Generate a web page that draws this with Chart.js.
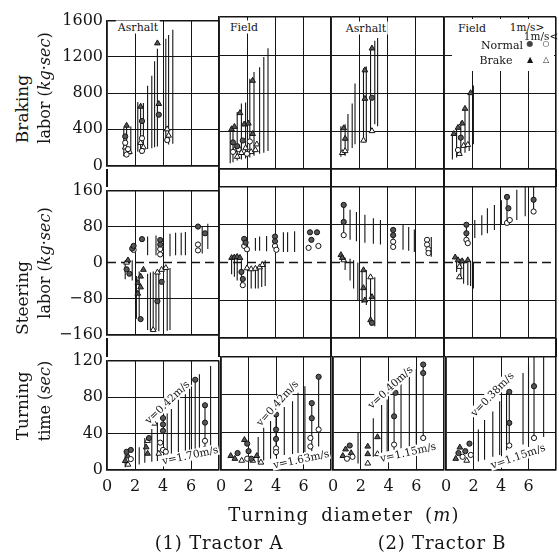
<!DOCTYPE html>
<html>
<head>
<meta charset="utf-8">
<script src="https://cdn.jsdelivr.net/npm/chart.js@4.4.0/dist/chart.umd.min.js"></script>
<style>
  body { margin: 0; width: 559px; height: 554px; background: #fff; position: relative; overflow: hidden;
         font-family: 'DejaVu Serif', serif; color: #151515; }
  canvas { position: absolute; }
  .t { position: absolute; white-space: nowrap; transform-origin: center; line-height: 1; z-index: 5; }
  .strip { position: absolute; background: #151515; width: 1.6px; }
  i { font-style: italic; }
</style>
</head>
<body>
<script>
// ---- axes ----
const xTicks = [0, 2, 4, 6, 8];
const brakingTicks = [0, 400, 800, 1200, 1600];
const steeringTicks = [-160, -80, 0, 80, 160];
const timeTicks = [0, 40, 80, 120];

// ---- Braking labor (kg.sec) ----
// lines: [diameter, low, high]; markers: [diameter, value]
const brkA1Lines = [[1.2,100,420],[1.4,110,450],[1.7,120,430],[2.2,150,700],[2.4,130,690],[2.6,140,690],[2.9,180,880],[3.2,190,990],[3.4,200,1150],[3.6,210,1290],[4.2,250,1400],[4.4,230,1440],[4.7,240,1500]];
const brkA1NormHi = [[1.3,320],[2.5,490],[3.7,560]];
const brkA1NormLo = [[1.3,250],[1.5,180],[2.5,300],[2.5,160],[4.3,280],[1.4,120]];
const brkA1BrkHi = [[1.4,440],[2.4,650],[3.6,1350],[3.7,680]];
const brkA1BrkLo = [[1.3,200],[1.6,150],[2.4,250],[2.6,200],[4.3,400],[4.4,330]];

const brkA2Lines = [[0.8,60,400],[1.0,70,420],[1.3,90,600],[1.6,100,690],[1.9,110,700],[2.2,120,950],[2.5,140,1020],[2.9,160,1070],[3.2,170,1180],[3.5,190,1270]];
const brkA2NormHi = [[1.0,280],[1.3,240],[1.7,300]];
const brkA2NormLo = [[1.0,180],[1.4,210],[2.0,160],[2.2,290]];
const brkA2BrkHi = [[0.9,420],[1.1,445],[1.5,590],[1.8,470],[2.1,480],[2.4,930],[2.4,370]];
const brkA2BrkLo = [[1.1,200],[1.3,130],[1.6,170],[1.9,220],[2.3,180],[2.6,200],[2.7,260]];

const brkB1Lines = [[0.7,130,450],[1.0,140,470],[1.2,190,580],[1.5,220,690],[1.7,260,900],[2.3,280,1060],[2.5,290,1080],[2.8,380,1280],[3.1,470,1350],[3.3,450,1380]];
const brkB1NormHi = [[2.9,750]];
const brkB1NormLo = [];
const brkB1BrkHi = [[0.9,430],[1.0,320],[2.4,1040],[2.4,740],[2.9,1270]];
const brkB1BrkLo = [[0.8,170],[1.0,190],[2.3,300],[2.9,400]];

const brkB2Lines = [[0.6,100,370],[0.9,120,430],[1.2,150,500],[1.5,170,650],[1.8,190,800],[2.1,260,880]];
const brkB2NormHi = [[1.2,330]];
const brkB2NormLo = [[1.0,200]];
const brkB2BrkHi = [[0.7,370],[1.0,435],[1.3,480],[1.5,635],[1.9,800]];
const brkB2BrkLo = [[1.1,160],[1.4,245],[1.7,255]];

// ---- Steering labor (kg.sec) ----
const strA1Lines = [[1.3,-37,5],[1.8,-40,5],[2.1,-125,-30],[2.3,-130,-20],[2.9,-150,-25],[3.1,-152,-22],[3.3,-152,-20],[3.5,-150,-25],[3.7,-153,-20],[4.3,-152,-15],[4.5,-150,-12],
                    [2.9,16,58],[3.5,16,60],[4.5,14,64],[4.9,16,66],[5.3,16,66],[5.6,16,68],[6.8,20,80],[7.2,30,86]];
const strA1NormHi = [[1.8,31],[1.9,37],[2.5,52],[3.8,50],[3.8,40],[6.5,80],[7.0,65],[1.4,-15],[1.6,-25],[2.4,-126],[3.6,-86],[3.9,-43]];
const strA1NormLo = [[3.8,30],[3.8,18],[6.5,40],[6.5,27],[1.9,28]];
const strA1BrkHi = [[1.5,5],[2.2,-69],[2.4,-31],[2.6,-16],[2.2,-45],[2.4,-55]];
const strA1BrkLo = [[3.3,-150],[3.6,-22],[3.9,-16],[4.2,-12],[1.4,0]];

const strA2Lines = [[2.6,25,52],[2.9,25,55],[3.4,24,56],[4.6,22,64],[4.9,22,64],[5.4,22,66],
                    [0.9,-25,8],[1.1,-30,8],[1.3,-38,8],[1.6,-52,5],[2.3,-55,-10],[2.6,-55,-10],[2.8,-55,-8],[3.05,-52,-8],[3.3,-50,5]];
const strA2NormHi = [[1.8,50],[1.9,42],[4.0,55],[4.0,45],[6.5,64],[6.6,48],[7.0,64],[1.6,-20],[1.7,-35]];
const strA2NormLo = [[1.8,35],[2.0,28],[4.0,35],[4.1,27],[6.4,31],[7.1,35],[1.7,-48]];
const strA2BrkHi = [[0.9,10],[1.1,11],[1.3,12],[1.5,10]];
const strA2BrkLo = [[2.0,-12],[2.3,-14],[2.6,-13],[2.9,-10],[3.1,-5]];

const strB1Lines = [[0.9,58,125],[1.35,48,112],[1.8,45,107],[2.4,42,101],[3.0,40,94],[3.5,38,90],[4.4,33,72],[5.1,27,80],[5.5,25,75],[5.9,22,70],[7.1,12,54],
                    [1.0,-16,10],[1.35,-38,8],[1.6,-55,5],[1.9,-80,0],[2.2,-86,-16],[2.5,-90,-16],[2.8,-132,-31],[3.1,-135,-31]];
const strB1NormHi = [[0.9,122],[0.9,86],[4.4,69],[4.4,58],[2.9,-128]];
const strB1NormLo = [[0.9,58],[4.4,44],[4.4,33],[6.8,48],[6.8,38],[6.9,28],[6.9,20]];
const strB1BrkHi = [[0.7,16],[0.8,10],[2.3,-16],[2.3,-54],[2.4,-80],[2.9,-73],[2.8,-122]];
const strB1BrkLo = [[0.9,5],[2.8,-31]];

const strB2Lines = [[0.9,-20,12],[1.2,-35,8],[1.4,-45,6],[1.7,-48,5],[1.9,-50,3],[2.1,-55,0],
                    [1.6,41,80],[2.2,52,90],[2.7,58,100],[3.1,62,115],[3.6,69,122],[4.1,80,132],[4.5,84,141],[5.2,90,154],[5.8,98,160],[6.4,105,168]];
const strB2NormHi = [[1.6,80],[1.6,62],[4.5,139],[4.6,115],[6.4,168],[6.4,133]];
const strB2NormLo = [[1.6,48],[1.7,41],[4.5,84],[4.7,90],[6.4,108]];
const strB2BrkHi = [[0.8,11],[1.0,5],[1.3,3],[1.7,5]];
const strB2BrkLo = [[1.1,-9],[1.1,-31]];

// ---- Turning time (sec) ----
const timA1Lines = [[1.3,3,22],[2.3,6,25],[2.7,8,35],[3.2,9,45],[3.6,10,52],[4.3,12,62],[4.6,13,67],[5.1,14,77],[5.6,15,83],[5.9,16,89],[6.3,17,99],[6.6,17,105],[7.0,20,71],[7.4,19,114]];
const timA1NormHi = [[1.4,20],[1.7,22],[3.0,35],[4.0,57],[4.0,50],[4.0,43],[6.3,99],[7.0,71],[7.0,52]];
const timA1NormLo = [[1.7,12],[3.8,30],[4.0,22],[4.2,20],[7.0,32],[7.0,23]];
const timA1BrkHi = [[1.3,10],[1.5,15],[2.8,25],[2.9,18]];
const timA1BrkLo = [[1.5,6],[2.9,32],[3.4,51],[3.7,18]];

const timA2Lines = [[2.7,8,35],[3.1,10,45],[3.6,12,52],[4.0,15,59],[4.6,16,67],[5.2,17,73],[5.6,18,82],[6.1,19,89],[6.6,20,71],[7.1,25,99]];
const timA2NormHi = [[1.2,18],[2.0,20],[1.9,28],[2.2,12],[4.0,59],[4.0,43],[4.0,33],[6.6,71],[6.6,55],[7.1,99]];
const timA2NormLo = [[1.9,12],[4.0,23],[4.0,19],[6.5,34],[6.5,25],[7.1,43]];
const timA2BrkHi = [[0.7,15],[1.0,12],[1.7,32],[2.6,15]];
const timA2BrkLo = [[1.5,10],[2.3,10],[2.9,8]];

const timB1Lines = [[1.8,7,40],[2.9,14,55],[3.5,16,69],[3.9,16,75],[4.4,20,82],[4.9,21,93],[5.5,25,99],[6.0,27,107],[6.5,32,112]];
const timB1NormHi = [[1.2,26],[4.5,82],[4.4,57],[6.5,112],[6.5,103]];
const timB1NormLo = [[1.0,12],[1.4,14],[4.4,27],[6.5,34]];
const timB1BrkHi = [[0.7,15],[0.9,22],[1.3,18],[2.5,25],[2.5,17],[3.2,35]];
const timB1BrkLo = [[2.5,7],[3.2,17]];

const timB2Lines = [[2.35,9,43],[2.8,11,53],[3.4,14,62],[3.9,16,73],[4.4,21,82],[4.6,26,83],[5.6,27,103],[6.0,29,112],[6.4,34,123],[7.1,35,131]];
const timB2NormHi = [[0.9,18],[1.4,20],[1.7,28],[4.6,83],[4.6,50],[6.4,123],[6.4,89]];
const timB2NormLo = [[1.2,14],[1.8,16],[4.6,26],[6.4,34]];
const timB2BrkHi = [[0.7,12],[1.0,24]];
const timB2BrkLo = [[1.5,10]];

// ---- layout (pixels of the page) ----
const PAD = 10;
const Y_LABEL_W = 56;
const X_LABEL_H = 26;
const colEdges = [107, 219, 331, 444, 556];
const rowEdges = [[17, 169], [187, 338], [357, 470]];
const rowTicks = [brakingTicks, steeringTicks, timeTicks];
const INK = '#151515';

const panels = [
  { row: 0, col: 0, lines: brkA1Lines, m: [brkA1NormHi, brkA1NormLo, brkA1BrkHi, brkA1BrkLo] },
  { row: 0, col: 1, lines: brkA2Lines, m: [brkA2NormHi, brkA2NormLo, brkA2BrkHi, brkA2BrkLo] },
  { row: 0, col: 2, lines: brkB1Lines, m: [brkB1NormHi, brkB1NormLo, brkB1BrkHi, brkB1BrkLo] },
  { row: 0, col: 3, lines: brkB2Lines, m: [brkB2NormHi, brkB2NormLo, brkB2BrkHi, brkB2BrkLo] },
  { row: 1, col: 0, lines: strA1Lines, m: [strA1NormHi, strA1NormLo, strA1BrkHi, strA1BrkLo] },
  { row: 1, col: 1, lines: strA2Lines, m: [strA2NormHi, strA2NormLo, strA2BrkHi, strA2BrkLo] },
  { row: 1, col: 2, lines: strB1Lines, m: [strB1NormHi, strB1NormLo, strB1BrkHi, strB1BrkLo] },
  { row: 1, col: 3, lines: strB2Lines, m: [strB2NormHi, strB2NormLo, strB2BrkHi, strB2BrkLo] },
  { row: 2, col: 0, lines: timA1Lines, m: [timA1NormHi, timA1NormLo, timA1BrkHi, timA1BrkLo] },
  { row: 2, col: 1, lines: timA2Lines, m: [timA2NormHi, timA2NormLo, timA2BrkHi, timA2BrkLo] },
  { row: 2, col: 2, lines: timB1Lines, m: [timB1NormHi, timB1NormLo, timB1BrkHi, timB1BrkLo] },
  { row: 2, col: 3, lines: timB2Lines, m: [timB2NormHi, timB2NormLo, timB2BrkHi, timB2BrkLo] }
];

// vertical range lines, broken apart with nulls
function segs(lines) {
  const out = [];
  lines.forEach(([x, lo, hi]) => out.push({ x, y: lo }, { x, y: hi }, { x, y: null }));
  return out;
}

function markerSet(data, style, filled) {
  return {
    data: data.map(([x, y]) => ({ x, y })),
    showLine: false,
    order: 0,
    pointStyle: style,
    pointRadius: style === 'triangle' ? 3.3 : 2.6,
    pointBackgroundColor: filled ? '#555' : '#fff',
    pointBorderColor: INK,
    pointBorderWidth: 1
  };
}

function makePanel(p) {
  const x0 = colEdges[p.col], x1 = colEdges[p.col + 1];
  const [y0, y1] = rowEdges[p.row];
  const ticks = rowTicks[p.row];
  const leftExtra = p.col === 0 ? Y_LABEL_W : 0;
  const bottomExtra = p.row === 2 ? X_LABEL_H : 0;
  const w = x1 - x0 + 2 * PAD + leftExtra;
  const h = y1 - y0 + 2 * PAD + bottomExtra;

  const cv = document.createElement('canvas');
  cv.width = w; cv.height = h;
  cv.style.cssText = `left:${x0 - PAD - leftExtra}px;top:${y0 - PAD}px;width:${w}px;height:${h}px`;
  document.body.appendChild(cv);

  const datasets = [
    markerSet(p.m[0], 'circle', true),
    markerSet(p.m[1], 'circle', false),
    markerSet(p.m[2], 'triangle', true),
    markerSet(p.m[3], 'triangle', false),
    { data: segs(p.lines), order: 2, borderColor: INK, borderWidth: 1.1, pointRadius: 0, spanGaps: false }
  ];
  // dashed zero line for steering labor
  if (p.row === 1) {
    datasets.push({ data: [{ x: 0, y: 0 }, { x: 8, y: 0 }], order: 3, borderColor: INK, borderWidth: 1.4,
                    borderDash: [9, 5], pointRadius: 0 });
  }

  const edge = (c, lo, hi) => c.tick && (c.tick.value === lo || c.tick.value === hi);

  new Chart(cv, {
    type: 'line',
    data: { datasets },
    options: {
      responsive: false,
      animation: false,
      devicePixelRatio: 1,
      layout: { padding: PAD, autoPadding: false },
      plugins: { legend: { display: false }, tooltip: { enabled: false } },
      scales: {
        x: {
          type: 'linear',
          min: xTicks[0], max: xTicks[xTicks.length - 1],
          ticks: {
            display: p.row === 2, stepSize: xTicks[1] - xTicks[0], padding: 7, autoSkip: false, maxRotation: 0,
            color: INK, font: { family: 'DejaVu Serif', size: 16 },
            callback: v => v === 8 ? '' : v
          },
          grid: { drawTicks: false, color: INK, lineWidth: c => edge(c, 0, 8) ? 1.6 : 1 },
          border: { color: INK, width: 1.6 },
          afterFit: s => { s.height = bottomExtra; }
        },
        y: {
          type: 'linear',
          min: ticks[0], max: ticks[ticks.length - 1],
          ticks: {
            display: p.col === 0, stepSize: ticks[1] - ticks[0], padding: 4, autoSkip: false,
            color: INK, font: { family: 'DejaVu Serif', size: 16 },
            callback: v => String(v).replace('-', '\u2212')
          },
          grid: {
            drawTicks: false,
            color: c => (p.row === 1 && c.tick && c.tick.value === 0) ? 'rgba(0,0,0,0)' : INK,
            lineWidth: c => edge(c, ticks[0], ticks[ticks.length - 1]) ? 1.6 : 1
          },
          border: { color: INK, width: 1.6 },
          afterFit: s => { s.width = leftExtra; }
        }
      }
    }
  });
}

panels.forEach(makePanel);

// dividers running through the blank strips between rows
[[169, 187], [338, 357]].forEach(([a, b]) => {
  colEdges.forEach(x => {
    const d = document.createElement('div');
    d.className = 'strip';
    d.style.cssText = `left:${x - 0.8}px;top:${a}px;height:${b - a}px`;
    document.body.appendChild(d);
  });
});

// ---- text ----
function label(html, cx, cy, size, rot, extra) {
  const d = document.createElement('div');
  d.className = 't';
  d.innerHTML = html;
  d.style.cssText = `left:${cx}px;top:${cy}px;font-size:${size}px;` +
    `transform:translate(-50%,-50%) rotate(${rot || 0}deg);${extra || ''}`;
  document.body.appendChild(d);
  return d;
}

// axis titles
label('Braking', 22, 109, 17, -90);
label('labor (<i>kg</i>\u00b7<i>sec</i>)', 45, 88, 16, -90);
label('Steering', 22, 298, 17, -90);
label('labor (<i>kg</i>\u00b7<i>sec</i>)', 45, 263, 16, -90);
label('Turning', 22, 406, 17, -90);
label('time (<i>sec</i>)', 45, 401, 16, -90);
const spaced = 'letter-spacing:1.2px;word-spacing:5px;';
label('Turning diameter (<i>m</i>)', 344, 515, 18, 0, spaced);
label('(1) Tractor A', 219, 543, 18, 0, 'letter-spacing:0.8px;');
label('(2) Tractor B', 442, 543, 18, 0, 'letter-spacing:0.8px;');

// surface names
const bg = 'background:#fff;padding:1px 2px;';
label('Asrhalt', 138, 27, 11, 0, bg);
label('Field', 244, 27, 11, 0, bg);
label('Asrhalt', 366, 28, 11, 0, bg);

// legend box (top-right panel)
const box = document.createElement('div');
box.style.cssText = 'position:absolute;left:452px;top:19px;width:102px;height:52px;background:#fff;z-index:4';
document.body.appendChild(box);
label('Field', 472, 28, 11, 0);
label('1m/s&gt;', 527, 27, 10.5, 0);
label('1m/s&lt;', 541, 36, 10.5, 0);
label('Normal', 502, 45, 11, 0);
label('Brake', 496, 60, 11, 0);
const sym = "font-family:'DejaVu Sans';";
label('\u25cf', 530, 44, 8, 0, sym + 'color:#444');
label('\u25cb', 546, 44, 8, 0, sym);
label('\u25b2', 530, 60, 8, 0, sym);
label('\u25b3', 546, 60, 8, 0, sym);

// speed envelopes in turning time panels
const vs = 'background:#fff;padding:0 1px;';
label('v=0.42m/s', 167, 402, 10.5, -44, vs);
label('v=1.70m/s', 190, 455, 10.5, -12, vs);
label('v=0.42m/s', 277, 403, 10.5, -48, vs);
label('v=1.63m/s', 301, 459, 10.5, -12, vs);
label('v=0.40m/s', 390, 387, 10.5, -43, vs);
label('v=1.15m/s', 408, 452, 10.5, -13, vs);
label('v=0.38m/s', 492, 394, 10.5, -46, vs);
label('v=1.15m/s', 518, 456, 10.5, -19, vs);
</script>
</body>
</html>
